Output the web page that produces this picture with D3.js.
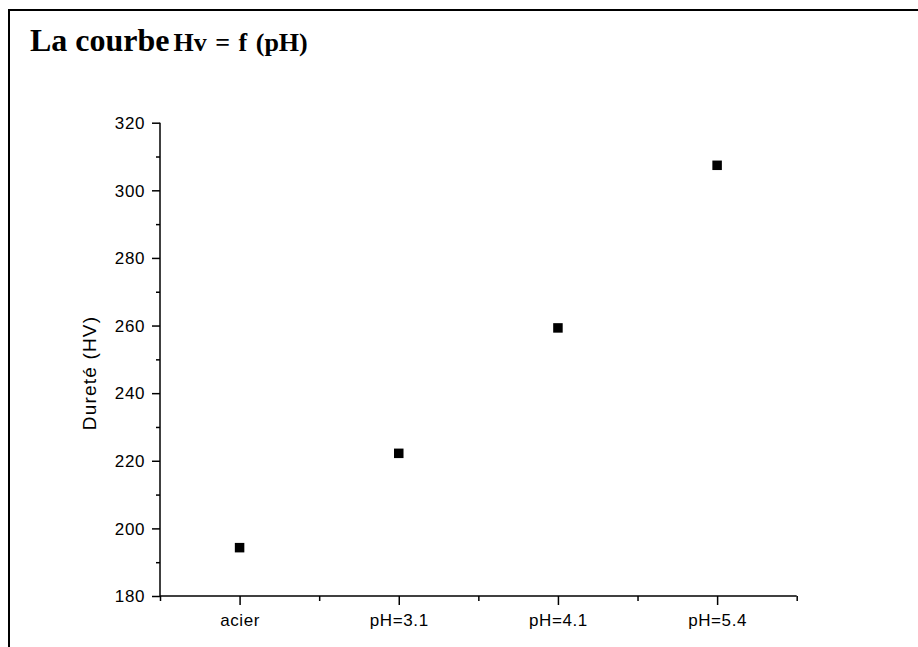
<!DOCTYPE html>
<html><head><meta charset="utf-8">
<script src="https://cdn.jsdelivr.net/npm/d3@7"></script>
<style>
html,body{margin:0;padding:0;background:#fff;}
svg{display:block;}
</style></head>
<body>
<svg id="chart" width="918" height="647"></svg>
<script>
const categories = ["acier", "pH=3.1", "pH=4.1", "pH=5.4"];
const hardness = [194.3, 222.2, 259.3, 307.4];
const yMajorTicks = [180, 200, 220, 240, 260, 280, 300, 320];
const yMinorTicks = [190, 210, 230, 250, 270, 290, 310];
const titleMain = "La courbe";
const titleSub = "Hv = f (pH)";
const yLabel = "Dureté (HV)";

const svg = d3.select("#chart");
// outer frame (extends past the bottom/right of the view)
svg.append("path").attr("d", "M9,660 L9,10 L930,10")
  .attr("fill", "none").attr("stroke", "#000").attr("stroke-width", 2);

const title = svg.append("text").attr("x", 30).attr("y", 51)
  .attr("font-family", "'Liberation Serif','Times New Roman',serif").attr("font-weight", "bold").attr("fill", "#000");
title.append("tspan").attr("font-size", 32).text(titleMain);
title.append("tspan").attr("font-size", 26).attr("dx", 4).attr("word-spacing", 2).text(titleSub);

const x = d3.scaleLinear().domain([0.5, 4.5]).range([160, 796.7]);
const y = d3.scaleLinear().domain([180, 320]).range([596, 122.7]);
const font = "'Liberation Sans',Arial,sans-serif";

// x axis minor (boundaries)
const gxMinor = svg.append("g").attr("transform", `translate(0,${y(180)})`)
  .call(d3.axisBottom(x).tickValues([0.5,1.5,2.5,3.5,4.5]).tickSize(5).tickFormat(""));
gxMinor.select(".domain").remove();
gxMinor.selectAll("line").attr("stroke-width", 1.5);

const gx = svg.append("g").attr("transform", `translate(0,${y(180)})`)
  .call(d3.axisBottom(x).tickValues([1,2,3,4]).tickSize(9).tickSizeOuter(0).tickFormat(d => categories[d-1]));
gx.select(".domain").attr("stroke-width", 1.5).attr("d", `M${x(0.5)},0H${x(4.5)}`);
gx.selectAll("line").attr("stroke-width", 1.5);
gx.selectAll("text").attr("font-family", font).attr("font-size", 17).attr("letter-spacing", 0.6)
  .attr("fill", "#000").attr("y", 17.5).attr("dy", "0.71em");

// y axis
const gyMinor = svg.append("g").attr("transform", `translate(${x(0.5)},0)`)
  .call(d3.axisLeft(y).tickValues(yMinorTicks).tickSize(4).tickFormat(""));
gyMinor.select(".domain").remove();
gyMinor.selectAll("line").attr("stroke-width", 1.5);

const gy = svg.append("g").attr("transform", `translate(${x(0.5)},0)`)
  .call(d3.axisLeft(y).tickValues(yMajorTicks).tickSize(8).tickSizeOuter(0).tickFormat(d3.format("d")));
gy.select(".domain").attr("stroke-width", 1.5).attr("d", `M0,${y(180)}V${y(320)}`);
gy.selectAll("line").attr("stroke-width", 1.5);
gy.selectAll("text").attr("font-family", font).attr("font-size", 17).attr("letter-spacing", 0.6)
  .attr("fill", "#000").attr("x", -15).attr("dy", "0.34em");

svg.append("text").attr("transform", `translate(96,373) rotate(-90)`)
  .attr("text-anchor", "middle").attr("font-family", font).attr("font-size", 19)
  .attr("letter-spacing", 1.2).attr("fill", "#000").text(yLabel);

// markers
const size = 9.5;
svg.append("g").selectAll("rect").data(hardness).join("rect")
  .attr("x", (d, i) => x(i + 1) - size / 2)
  .attr("y", d => y(d) - size / 2)
  .attr("width", size).attr("height", size).attr("fill", "#000");
</script>
</body></html>
